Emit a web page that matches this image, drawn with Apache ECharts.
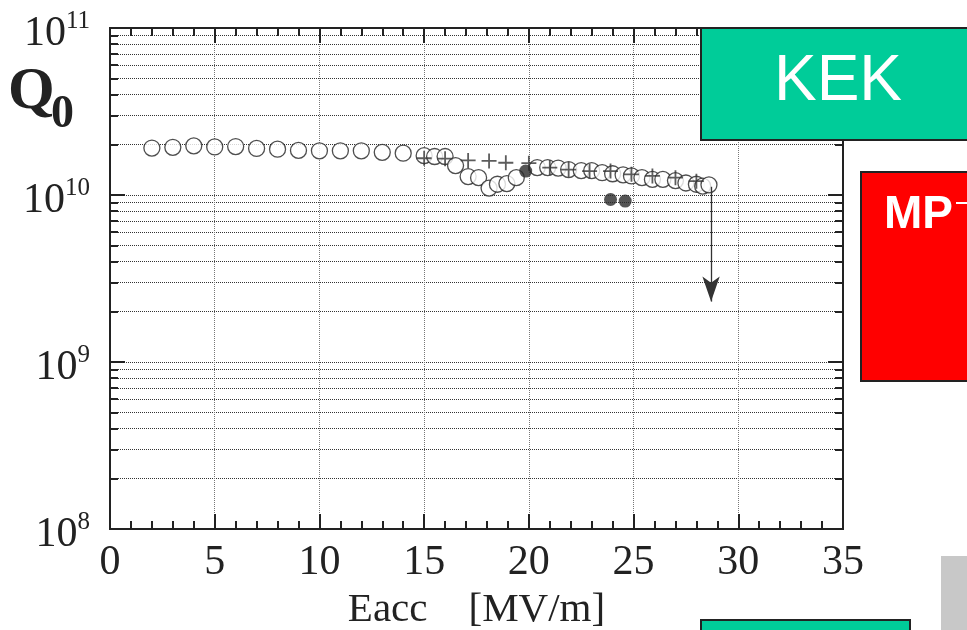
<!DOCTYPE html>
<html lang="en">

<head>
    <meta charset="UTF-8">
    <title>Q0 - Eacc</title>
    <style>
        * {
            padding: 0;
            margin: 0;
        }

        body {
            background: #fff;
        }
    </style>
</head>

<body>
    <div id="chart" style="width: 967px; height: 630px;"></div>
    <script src="https://cdn.jsdelivr.net/npm/echarts@6.0.0/dist/echarts.min.js"></script>
    <script>
        // open circles
        const eOpen = [2, 3, 4, 5, 6, 7, 8, 9, 10, 11, 12, 13, 14, 15, 15.5, 16, 16.5, 17.1, 17.6, 18.1, 18.5, 18.95, 19.4,
            20.4, 20.9, 21.4, 21.9, 22.5, 23, 23.5, 24, 24.5, 24.9, 25.4, 25.9, 26.4, 27, 27.5, 28, 28.3, 28.6]
        const qOpen = [1.91e10, 1.93e10, 1.97e10, 1.94e10, 1.95e10, 1.90e10, 1.88e10, 1.85e10, 1.84e10, 1.84e10, 1.84e10,
            1.80e10, 1.78e10, 1.72e10, 1.70e10, 1.70e10, 1.50e10, 1.29e10, 1.27e10, 1.10e10, 1.16e10, 1.17e10, 1.27e10,
            1.46e10, 1.46e10, 1.45e10, 1.42e10, 1.40e10, 1.40e10, 1.36e10, 1.34e10, 1.32e10, 1.30e10, 1.27e10, 1.24e10,
            1.24e10, 1.22e10, 1.18e10, 1.16e10, 1.13e10, 1.15e10]

        // filled dots
        const eFilled = [19.85, 23.9, 24.6]
        const qFilled = [1.39e10, 9.4e9, 9.2e9]

        // crosses
        const eCross = [15, 16, 17.1, 18.1, 18.9, 20, 21, 21.9, 22.9, 23.9, 24.9, 25.9, 27, 28]
        const qCross = [1.66e10, 1.65e10, 1.61e10, 1.60e10, 1.56e10, 1.55e10, 1.46e10, 1.42e10, 1.39e10, 1.39e10,
            1.33e10, 1.30e10, 1.27e10, 1.21e10]

        // arrow after the last point
        const arrowE = 28.7
        const arrowQ = [1.12e10, 2.3e9]

        // tick values
        const yMajor = [1e8, 1e9, 1e10, 1e11]
        const yMinor = [1e8, 2e8, 3e8, 4e8, 5e8, 6e8, 7e8, 8e8, 9e8,
            1e9, 2e9, 3e9, 4e9, 5e9, 6e9, 7e9, 8e9, 9e9,
            1e10, 2e10, 3e10, 4e10, 5e10, 6e10, 7e10, 8e10, 9e10, 1e11]

        const ink = '#222'
        const serif = "'Liberation Serif', 'DejaVu Serif', serif"
        const sans = "'Liberation Sans', Arial, sans-serif"

        const pairs = (xs, ys) => xs.map((x, i) => [x, ys[i]])

        function xAx(position, showLabel) {
            return {
                type: 'value',
                position: position,
                min: 0,
                max: 35,
                interval: 5,
                axisLine: { lineStyle: { color: ink, width: 2 } },
                axisTick: { inside: true, length: 15, lineStyle: { color: ink, width: 2 } },
                minorTick: { show: true, splitNumber: 5, length: 8, lineStyle: { color: ink, width: 2 } },
                axisLabel: {
                    show: showLabel,
                    margin: 13,
                    color: ink,
                    fontFamily: serif,
                    fontSize: 42
                },
                splitLine: {
                    show: showLabel,
                    lineStyle: { type: 'dotted', color: '#777', width: 1 }
                },
                minorSplitLine: { show: false }
            }
        }

        function yAx(position, ticks, len, withLabel, withGrid) {
            return {
                type: 'log',
                logBase: 10,
                position: position,
                min: 1e8,
                max: 1e11,
                axisLine: { lineStyle: { color: ink, width: 2 } },
                axisTick: { inside: true, length: len, customValues: ticks, lineStyle: { color: ink, width: 2 } },
                axisLabel: {
                    show: withLabel,
                    customValues: yMajor,
                    margin: 20,
                    padding: [8, 0, 0, 0],
                    formatter: function (v) {
                        return '{b|10}{e|' + Math.round(Math.log10(v)) + '}'
                    },
                    rich: {
                        b: { fontFamily: serif, fontSize: 42, color: ink, lineHeight: 46, verticalAlign: 'bottom', padding: [6, 0, 0, 0] },
                        e: { fontFamily: serif, fontSize: 25, color: ink, lineHeight: 25, verticalAlign: 'top' }
                    }
                },
                splitLine: {
                    show: withGrid,
                    lineStyle: { type: 'dotted', color: '#333', width: 1 }
                }
            }
        }

        let mychart = echarts.init(document.getElementById('chart'))

        let options = {
            animation: false,
            backgroundColor: '#fff',
            grid: {
                left: 110,
                right: 124,
                top: 28,
                bottom: 101,
                containLabel: false,
                outerBoundsMode: 'none'
            },
            xAxis: [
                Object.assign(xAx('bottom', true), {
                    name: 'Eacc    [MV/m]',
                    nameLocation: 'middle',
                    nameGap: 61,
                    nameTextStyle: { fontFamily: serif, fontSize: 41, color: ink }
                }),
                xAx('top', false)
            ],
            yAxis: [
                yAx('left', yMinor, 8, false, true),
                yAx('left', yMajor, 15, true, false),
                yAx('right', yMinor, 8, false, false),
                yAx('right', yMajor, 15, false, false)
            ],
            series: [{
                name: 'open',
                type: 'scatter',
                symbol: 'circle',
                symbolSize: 16,
                itemStyle: { color: '#fff', borderColor: ink, borderWidth: 1.3 },
                data: pairs(eOpen, qOpen),
                z: 3
            }, {
                name: 'cross',
                type: 'scatter',
                symbol: 'path://M4.4,0H5.6V10H4.4Z M0,4.4H10V5.6H0Z',
                symbolSize: 15,
                itemStyle: { color: '#333' },
                data: pairs(eCross, qCross),
                z: 4
            }, {
                name: 'filled',
                type: 'scatter',
                symbol: 'circle',
                symbolSize: 13,
                itemStyle: { color: '#2a2a2a' },
                data: pairs(eFilled, qFilled),
                z: 5
            }, {
                name: 'arrow',
                type: 'line',
                data: [],
                markLine: {
                    silent: true,
                    label: { show: false },
                    lineStyle: { color: '#333', width: 1.3, type: 'solid' },
                    data: [[
                        { coord: [arrowE, arrowQ[0]], symbol: 'none' },
                        { coord: [arrowE, arrowQ[1]], symbol: 'arrow', symbolSize: [13, 25] }
                    ]]
                }
            }],
            graphic: [{
                type: 'text',
                left: 8,
                top: 62,
                style: { text: 'Q', font: 'bold 60px ' + serif, fill: ink }
            }, {
                type: 'text',
                left: 51,
                top: 92,
                style: { text: '0', font: 'bold 46px ' + serif, fill: ink }
            }, {
                type: 'rect',
                z: 100,
                shape: { x: 701, y: 28, width: 300, height: 112 },
                style: { fill: '#00CC99', stroke: ink, lineWidth: 2 }
            }, {
                type: 'text',
                z: 101,
                style: {
                    x: 838, y: 82, text: 'KEK', fill: '#fff',
                    font: '64px ' + sans, align: 'center', verticalAlign: 'middle'
                }
            }, {
                type: 'rect',
                z: 100,
                shape: { x: 861, y: 172, width: 120, height: 209 },
                style: { fill: '#FF0000', stroke: ink, lineWidth: 2 }
            }, {
                type: 'text',
                z: 101,
                style: {
                    x: 884, y: 215, text: 'MP', fill: '#fff',
                    font: 'bold 46px ' + sans, align: 'left', verticalAlign: 'middle'
                }
            }, {
                type: 'rect',
                z: 101,
                shape: { x: 956, y: 202, width: 12, height: 2 },
                style: { fill: '#fff' }
            }, {
                type: 'rect',
                z: 100,
                shape: { x: 941, y: 556, width: 30, height: 80 },
                style: { fill: '#C8C8C8' }
            }, {
                type: 'rect',
                z: 100,
                shape: { x: 701, y: 620, width: 209, height: 20 },
                style: { fill: '#00CC99', stroke: ink, lineWidth: 2 }
            }]
        }

        mychart.setOption(options);
    </script>
</body>

</html>
